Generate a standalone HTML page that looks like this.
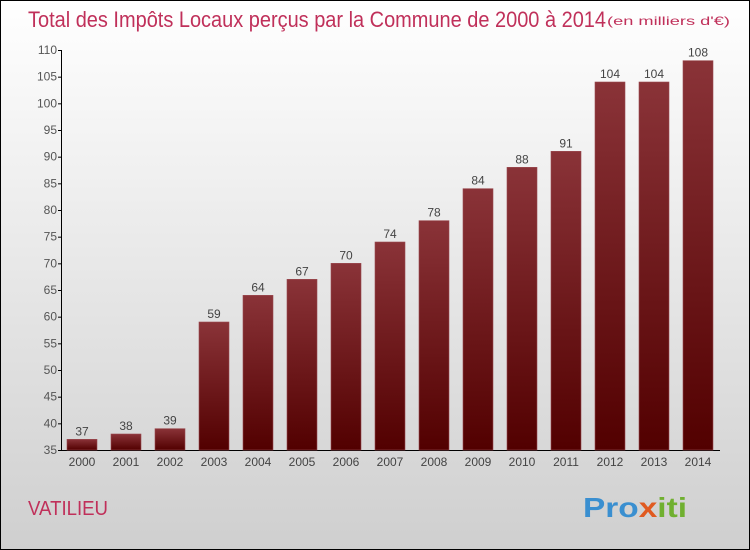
<!DOCTYPE html>
<html><head><meta charset="utf-8"><style>
body{margin:0;width:750px;height:550px;overflow:hidden}
svg{display:block}
text{font-family:"Liberation Sans",sans-serif}
</style></head><body>
<svg width="750" height="550">
<defs>
<linearGradient id="bg" x1="0" y1="0" x2="0" y2="1"><stop offset="0" stop-color="#ffffff"/><stop offset="1" stop-color="#cfcfcf"/></linearGradient>
<linearGradient id="bar" x1="0" y1="0" x2="0" y2="1"><stop offset="0" stop-color="#8a3338"/><stop offset="1" stop-color="#520000"/></linearGradient>
</defs>
<rect x="0.5" y="0.5" width="749" height="549" fill="url(#bg)" stroke="#000"/>
<text x="28" y="27" font-size="22" fill="#c0305a" textLength="578" lengthAdjust="spacingAndGlyphs">Total des Impôts Locaux perçus par la Commune de 2000 à 2014</text>
<text x="607" y="25" font-size="12" fill="#c0305a" textLength="123" lengthAdjust="spacingAndGlyphs">(en milliers d'€)</text>
<text x="28" y="515" font-size="20" fill="#c0305a" textLength="80" lengthAdjust="spacingAndGlyphs">VATILIEU</text>
<text x="583" y="517" font-size="28" font-weight="bold" textLength="104" lengthAdjust="spacingAndGlyphs"><tspan fill="#3a8fd0">Pro</tspan><tspan fill="#e05a20">x</tspan><tspan fill="#70b030">iti</tspan></text>
<g id="axes"></g>
<g id="bars"></g>
</svg>
<script>
const years=["2000","2001","2002","2003","2004","2005","2006","2007","2008","2009","2010","2011","2012","2013","2014"];
const values=[37,38,39,59,64,67,70,74,78,84,88,91,104,104,108];
const yTicks=[35,40,45,50,55,60,65,70,75,80,85,90,95,100,105,110];
const ns="http://www.w3.org/2000/svg";
const y0=450,yMin=35,yMax=110,yTop=50;
const yS=v=>y0-(v-yMin)*(y0-yTop)/(yMax-yMin);
const xS=i=>82+i*44;
function mk(t,a,p){const e=document.createElementNS(ns,t);for(const k in a)e.setAttribute(k,a[k]);p.appendChild(e);return e;}
const ax=document.getElementById('axes'),bs=document.getElementById('bars');
let l=mk('line',{x1:61.5,y1:yTop,x2:61.5,y2:y0,stroke:'#000'},ax);


l=mk('line',{x1:61,y1:y0+0.5,x2:720,y2:y0+0.5,stroke:'#000'},ax);


yTicks.forEach(v=>{const y=yS(v);
const t=mk('line',{x1:58,y1:y+0.5,x2:62,y2:y+0.5,stroke:'#000'},ax);


const tx=mk('text',{x:57,y:y+4,'font-size':12,fill:'#555','text-anchor':'end'},ax);tx.textContent=v;

});
values.forEach((v,i)=>{const x=xS(i),y=yS(v);
const r=mk('rect',{x:x-15,y:y,width:30,height:y0-y,fill:'url(#bar)',stroke:'#9a4a50','stroke-width':0.6},bs);


const t=mk('text',{x:x,y:y-4,'font-size':12,fill:'#444','text-anchor':'middle'},bs);t.textContent=v;


const xl=mk('text',{x:x,y:466,'font-size':12,fill:'#444','text-anchor':'middle'},bs);xl.textContent=years[i];

});
</script>
</body></html>
